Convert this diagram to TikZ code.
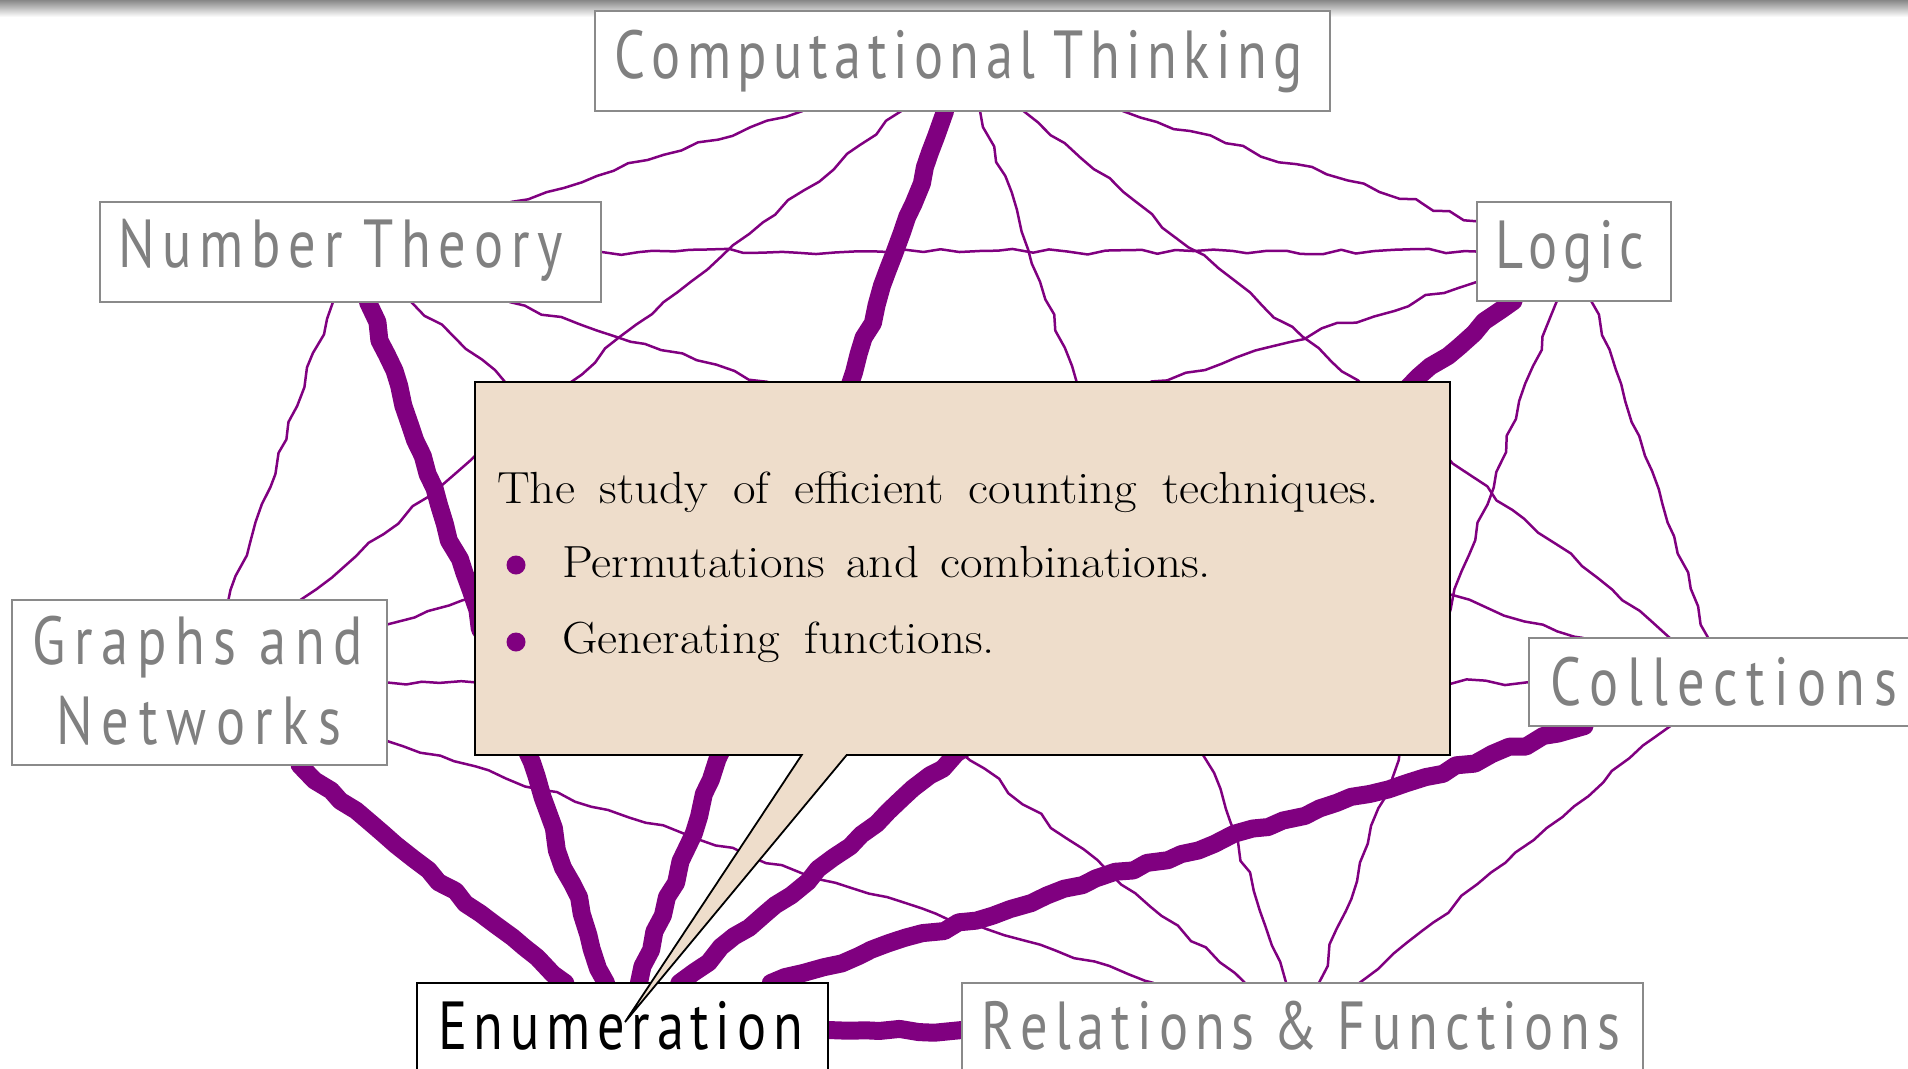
\documentclass[tikz,border=0pt]{standalone}
\usepackage{fontspec}
\usetikzlibrary{decorations.pathmorphing,shapes.callouts}
\newfontfamily\lblfont[FakeStretch=0.8]{PT Sans}
\newfontfamily\calfont[FakeStretch=1.09]{Latin Modern Roman}
\newcommand\lblsetup{\lblfont\fontsize{68}{72}\selectfont\spaceskip 5pt\relax}
\definecolor{edgepurple}{RGB}{128,0,128}
\definecolor{calloutfill}{RGB}{238,221,203}
\definecolor{boxgray}{RGB}{138,138,138}
\definecolor{labelgray}{RGB}{128,128,128}
\definecolor{bandgray}{RGB}{135,135,135}
\pgfdeclarelayer{edges}
\pgfsetlayers{edges,main}
\newcommand\spreadto[2]{\makebox[#1][s]{\sprfirst#2\relax}}
\def\sprfirst#1{#1\sprrest}
\def\sprrest#1{\ifx#1\relax\else\hfil#1\expandafter\sprrest\fi}
\tikzset{
  topicbox/.style={rectangle, draw=boxgray, line width=2.5pt, fill=white,
    inner sep=0pt, outer sep=0pt, text=labelgray,
    font=\lblsetup, text height=46pt},
  topiclabel/.style={inner sep=0pt, anchor=base, text=labelgray,
    font=\lblsetup},
  thinedge/.style={draw=edgepurple, line width=2.5pt, line join=round, line cap=round,
    decorate, decoration={random steps, segment length=18pt, amplitude=3pt}},
  thickedge/.style={thinedge, line width=18pt},
  calltext/.style={anchor=base west, inner sep=0pt, font=\calfont\fontsize{45}{50}\selectfont},
  bulletdot/.style={circle, fill=edgepurple, inner sep=0pt, minimum size=19pt},
}
\begin{document}
\begin{tikzpicture}[x=1pt,y=-1pt]
\pgfmathsetseed{7}
\useasboundingbox (0,0) rectangle (1908,1068);
% topic boxes
\node[topicbox, minimum width=735pt, minimum height=100pt, text depth=12pt] (ct) at (962.5,61)
  {\spreadto{689pt}{Computational\space Thinking}\kern8pt};
\node[topicbox, minimum width=501pt, minimum height=100pt, text depth=16pt] (nt) at (350.5,252)
  {\spreadto{445pt}{Number\space Theory}\kern20pt};
\node[topicbox, minimum width=194pt, minimum height=99pt, text depth=13pt] (lo) at (1574,251.5)
  {\spreadto{149pt}{Logic}\kern9pt};
\node[topicbox, minimum width=375pt, minimum height=165pt] (gn) at (199.5,682.5) {};
\node[topiclabel] (gn1) at (197.5,664) {\spreadto{331pt}{Graphs\space and}};
\node[topiclabel] (gn2) at (198.5,744) {\spreadto{285pt}{Networks}};
\node[topicbox, minimum width=389pt, minimum height=88pt, text depth=0pt] (co) at (1723.5,682)
  {\spreadto{347pt}{Collections}};
\node[topicbox, draw=black, text=black, minimum width=411pt, minimum height=94pt, text depth=8pt] (en) at (622.5,1030)
  {\spreadto{365pt}{Enumeration}\kern4pt};
\node[topicbox, minimum width=681pt, minimum height=94pt, text depth=8pt] (rf) at (1302.5,1030)
  {\spreadto{639pt}{Relations\space\&\space Functions}\kern4pt};
% background band and edges
\begin{pgfonlayer}{edges}
\shade[top color=bandgray, bottom color=white] (0,0) rectangle (1908,17);
\foreach \a/\b in {ct/nt, ct/lo, ct/gn, ct/co, ct/rf, nt/lo, nt/gn, nt/co, nt/rf,
                   lo/gn, lo/co, lo/rf, gn/co, gn/rf, co/rf}
  \draw[thinedge] (\a) -- (\b);
\foreach \b in {ct, nt, lo, gn, co, rf}
  \draw[thickedge] (en) -- (\b);
\end{pgfonlayer}
% callout
\node[rectangle callout, draw=black, line width=1.8pt, fill=calloutfill,
  minimum width=975pt, minimum height=373pt, inner sep=0pt, outer sep=0pt,
  callout absolute pointer={(625,1022)}, callout pointer width=45pt] (callout) at (962.5,568.5) {};
\node[calltext] (c1) at (497,503) {\makebox[882pt][s]{The study of efficient counting techniques.}};
\node[bulletdot] (d1) at (516,565) {};
\node[calltext] (c2) at (562,577) {\makebox[649pt][s]{Permutations and combinations.}};
\node[bulletdot] (d2) at (516,642) {};
\node[calltext] (c3) at (562,653) {\makebox[433pt][s]{Generating functions.}};
\end{tikzpicture}
\end{document}
